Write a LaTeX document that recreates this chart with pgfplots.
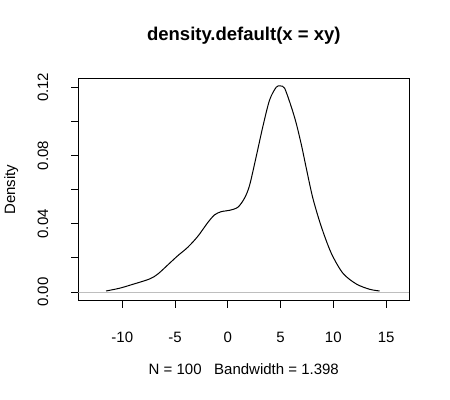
\documentclass[border=0pt]{standalone}
\usepackage{pgfplots}
\pgfplotsset{compat=1.18}
\usepackage{fontspec}
\setmainfont{Liberation Sans}
\begin{document}
\fontsize{15bp}{18bp}\selectfont
\begin{tikzpicture}[x=1bp,y=1bp]
\begin{axis}[
  at={(0,0)}, anchor=south west,
  scale only axis, width=331bp, height=222.4bp,
  xmin=-14.17, xmax=17.2, ymin=-0.0051, ymax=0.1253,
  xtick={-10,-5,0,5,10,15}, xticklabels={-10,-5,0,5,10,15},
  ytick={0,0.02,0.04,0.06,0.08,0.1,0.12},
  yticklabels={0.00,,0.04,,0.08,,0.12},
  tick align=outside, major tick length=7bp,
  xtick pos=lower, ytick pos=left,
  tick style={black, line width=1bp},
  axis line style={black, line width=1bp},
  tick label style={font=\fontsize{15bp}{18bp}\selectfont},
  label style={font=\fontsize{15bp}{18bp}\selectfont},
  xticklabel style={anchor=center, yshift=-30bp},
  yticklabel style={anchor=center, xshift=-28.3bp, rotate=90},
  title={density.default(x = xy)},
  title style={font=\bfseries\fontsize{18.5bp}{22bp}\selectfont, at={([yshift=36.3bp]axis description cs:0.5,1)}, anchor=center},
  xlabel={N = 100\ \ \ Bandwidth = 1.398},
  xlabel style={at={([yshift=-68.3bp]axis description cs:0.5,0)}, anchor=center},
  ylabel={Density},
  ylabel style={at={([xshift=-67bp]axis description cs:0,0.5)}, anchor=center},
]
\addplot[color={rgb,255:red,190;green,190;blue,190}, line width=1bp] coordinates {(-14.17,0) (17.2,0)};
\addplot[black, line width=1bp, smooth, tension=0.5] coordinates {
(-11.54,0.0006) (-10.27,0.0022) (-9.01,0.0045) (-7.43,0.0076) (-6.64,0.0105)
(-5.53,0.0168) (-4.74,0.0213) (-3.80,0.0262) (-2.85,0.0326) (-1.90,0.0407)
(-1.26,0.0452) (-0.63,0.0471) (0.16,0.0479) (0.95,0.0497) (1.58,0.0550)
(2.06,0.0625) (2.69,0.0794) (3.32,0.0970) (3.96,0.1126) (4.59,0.1201)
(4.97,0.1208) (5.38,0.1195) (6.02,0.1085) (6.5,0.0985) (7.0,0.0855)
(7.44,0.0725) (8.06,0.0550) (8.86,0.0383) (9.81,0.0227) (10.91,0.0110)
(12.18,0.0047) (13.44,0.0016) (14.39,0.0006)
};
\end{axis}
\pgfresetboundingbox
\path (-78.3,-98.3) rectangle (371.7,300.7);
\end{tikzpicture}
\end{document}
